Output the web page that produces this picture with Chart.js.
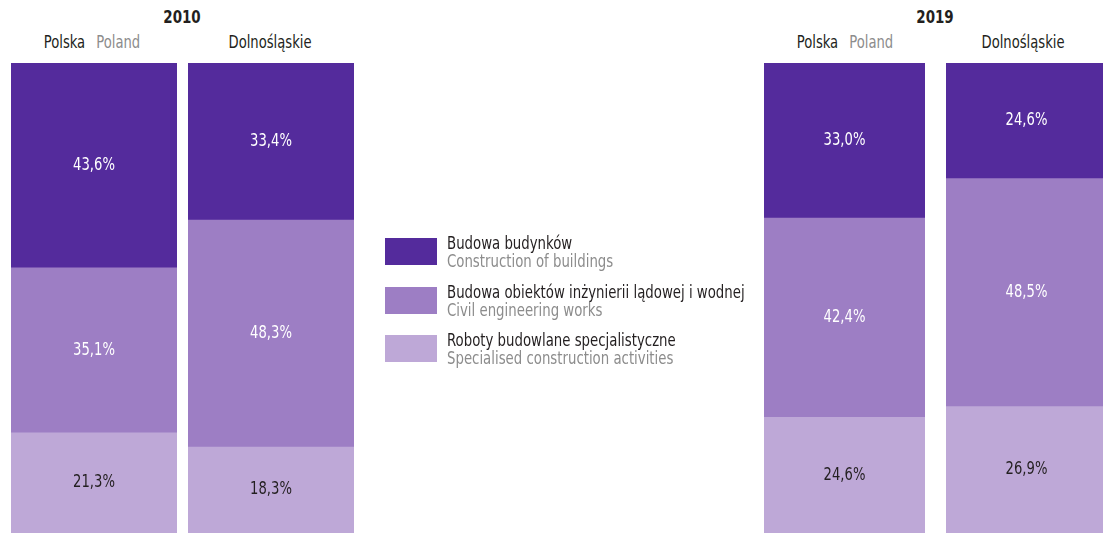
<!DOCTYPE html>
<html>
<head>
<meta charset="utf-8">
<script src="https://cdn.jsdelivr.net/npm/chart.js@4.4.1/dist/chart.umd.min.js"></script>
<style>
  html, body { margin:0; padding:0; background:#fff; width:1103px; height:533px; overflow:hidden; position:relative;
    font-family:"Liberation Sans Narrow","DejaVu Sans Condensed","Roboto Condensed",sans-serif; color:#231f20; }
  .box { position:absolute; }
  .lbl { position:absolute; font-size:17px; white-space:nowrap; transform:translateX(-50%) scaleX(0.86); line-height:20px; }
  .year { position:absolute; font-size:17px; font-weight:bold; transform:translateX(-50%) scaleX(0.88); line-height:20px; }
  .en { color:#8c8c8c; margin-left:13px; }
  .legend { position:absolute; left:385px; top:234px; }
  .li { display:flex; align-items:flex-start; height:48.5px; }
  .sw { width:52px; height:27px; margin-top:4px; margin-right:10px; flex:none; }
  .lt { font-size:17px; line-height:18px; transform:scaleX(0.87); transform-origin:left top; white-space:nowrap; }
  .lt .g { color:#8c8c8c; display:block; }
</style>
</head>
<body>
<div class="year" style="left:182px; top:7px;">2010</div>
<div class="year" style="left:935px; top:7px;">2019</div>
<div class="lbl" style="left:92px; top:32px;">Polska<span class="en">Poland</span></div>
<div class="lbl" style="left:270px; top:32px;">Dolnośląskie</div>
<div class="lbl" style="left:845px; top:32px;">Polska<span class="en">Poland</span></div>
<div class="lbl" style="left:1023px; top:32px;">Dolnośląskie</div>

<div class="box" style="left:11px; top:63px; width:166px; height:470px;"><canvas id="c0"></canvas></div>
<div class="box" style="left:188px; top:63px; width:166px; height:470px;"><canvas id="c1"></canvas></div>
<div class="box" style="left:764px; top:63px; width:161px; height:470px;"><canvas id="c2"></canvas></div>
<div class="box" style="left:946px; top:63px; width:161px; height:470px;"><canvas id="c3"></canvas></div>

<div class="legend" id="legend"></div>

<script>
// ---- data ----
const categories = ['Polska 2010', 'Dolnośląskie 2010', 'Polska 2019', 'Dolnośląskie 2019'];
const buildings   = [43.6, 33.4, 33.0, 24.6];
const civil       = [35.1, 48.3, 42.4, 48.5];
const specialised = [21.3, 18.3, 24.6, 26.9];
const seriesPL = ['Budowa budynków', 'Budowa obiektów inżynierii lądowej i wodnej', 'Roboty budowlane specjalistyczne'];
const seriesEN = ['Construction of buildings', 'Civil engineering works', 'Specialised construction activities'];
const colors = ['#542b9c', '#9d7ec4', '#bea8d7'];
const labelColors = ['#ffffff', '#ffffff', '#231f20'];

const FONT = '"Liberation Sans Narrow","DejaVu Sans Condensed","Roboto Condensed",sans-serif';

const valueLabels = {
  id: 'valueLabels',
  afterDatasetsDraw(chart) {
    const ctx = chart.ctx;
    chart.data.datasets.forEach((ds, di) => {
      const meta = chart.getDatasetMeta(di);
      meta.data.forEach((bar, i) => {
        const v = ds.data[i];
        const yMid = (bar.y + bar.base) / 2;
        ctx.save();
        ctx.font = '17px ' + FONT;
        ctx.textAlign = 'center';
        ctx.textBaseline = 'middle';
        ctx.fillStyle = ds.labelColor;
        ctx.translate(bar.x, yMid);
        ctx.scale(0.86, 1);
        ctx.fillText(v.toFixed(1).replace('.', ',') + '%', 0, 0);
        ctx.restore();
      });
    });
  }
};

// stacked bottom-up: specialised, civil, buildings
const seriesData = [specialised, civil, buildings];
const seriesIdx = [2, 1, 0];

categories.forEach((cat, k) => {
  new Chart(document.getElementById('c' + k), {
    type: 'bar',
    data: {
      labels: [cat],
      datasets: seriesData.map((arr, j) => ({
        label: seriesPL[seriesIdx[j]],
        data: [arr[k]],
        backgroundColor: colors[seriesIdx[j]],
        labelColor: labelColors[seriesIdx[j]],
        borderWidth: 0,
        barPercentage: 1,
        categoryPercentage: 1
      }))
    },
    options: {
      responsive: true,
      maintainAspectRatio: false,
      animation: false,
      layout: { padding: 0 },
      plugins: { legend: { display: false }, tooltip: { enabled: false } },
      scales: {
        x: { stacked: true, display: false, offset: true },
        y: { stacked: true, display: false, min: 0, max: 100 }
      }
    },
    plugins: [valueLabels]
  });
});

// legend
const lg = document.getElementById('legend');
seriesPL.forEach((name, i) => {
  const row = document.createElement('div');
  row.className = 'li';
  row.innerHTML = '<div class="sw" style="background:' + colors[i] + '"></div>' +
    '<div class="lt">' + name + '<span class="g">' + seriesEN[i] + '</span></div>';
  lg.appendChild(row);
});
</script>
</body>
</html>
